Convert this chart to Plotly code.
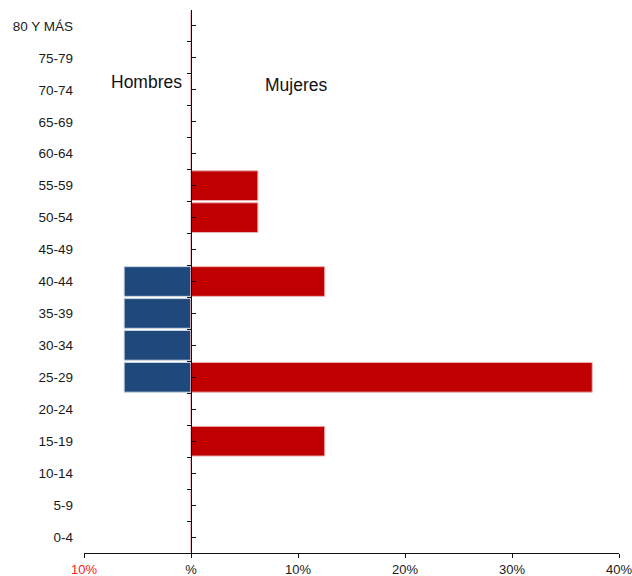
import plotly.graph_objects as go

categories = ["0-4", "5-9", "10-14", "15-19", "20-24", "25-29", "30-34", "35-39",
              "40-44", "45-49", "50-54", "55-59", "60-64", "65-69", "70-74", "75-79", "80 Y MÁS"]
hombres = [0, 0, 0, 0, 0, 6.25, 6.25, 6.25, 6.25, 0, 0, 0, 0, 0, 0, 0, 0]
mujeres = [0, 0, 0, 12.5, 0, 37.5, 0, 0, 12.5, 0, 6.25, 6.25, 0, 0, 0, 0, 0]
x_tickvals = [-10, 0, 10, 20, 30, 40]
x_ticktext = ['<span style="color:#ff2020">10%</span>', "%", "10%", "20%", "30%", "40%"]

fig = go.Figure()
fig.add_trace(go.Bar(
    y=categories, x=[-v for v in hombres], orientation="h", name="Hombres",
    marker=dict(color="#1F497D", line=dict(color="#c9d5e6", width=1)),
    showlegend=False, hoverinfo="skip"))
fig.add_trace(go.Bar(
    y=categories, x=mujeres, orientation="h", name="Mujeres",
    marker=dict(color="#C00000", line=dict(color="#eeb4b4", width=1)),
    showlegend=False, hoverinfo="skip"))
fig.add_trace(go.Scatter(x=[None], y=[None], yaxis="y2", showlegend=False, hoverinfo="skip"))

font_family = "Liberation Sans, Arial, sans-serif"
fig.update_layout(
    width=632, height=576,
    margin=dict(l=84, r=13, t=10, b=23, autoexpand=False),
    paper_bgcolor="white", plot_bgcolor="white",
    barmode="relative", bargap=0.07,
    font=dict(family=font_family, color="#1a1a1a"),
    xaxis=dict(range=[-10, 40], tickmode="array", tickvals=x_tickvals, ticktext=x_ticktext,
               showline=True, linecolor="#111", linewidth=1, ticks="outside", ticklen=4,
               tickcolor="#111", showgrid=False, zeroline=False, automargin=False,
               ticklabeloverflow="allow",
               tickfont=dict(size=13, color="#1a1a1a")),
    yaxis=dict(type="category", categoryorder="array", categoryarray=categories,
               range=[-0.5, 16.5], showline=False, showgrid=False, zeroline=False,
               automargin=False, ticks="", ticklabelstandoff=10,
               tickfont=dict(size=13.5, color="#1a1a1a")),
    yaxis2=dict(overlaying="y", anchor="free", position=0.2, range=[-0.5, 16.5],
                tickmode="linear", tick0=0, dtick=1, ticks="inside", ticklen=4,
                tickcolor="#111", showticklabels=False, showline=True, linecolor="#111",
                linewidth=1, showgrid=False, zeroline=False, automargin=False,
                minor=dict(ticks="outside", tick0=0.5, dtick=1, ticklen=4,
                           tickcolor="#111", showgrid=False)),
    annotations=[
        dict(text="Hombres", x=-4.2, y=14.25, xref="x", yref="y2", showarrow=False,
             font=dict(size=17.5, color="#111")),
        dict(text="Mujeres", x=9.8, y=14.15, xref="x", yref="y2", showarrow=False,
             font=dict(size=17.5, color="#111")),
    ],
)

fig.write_html("out.html")
